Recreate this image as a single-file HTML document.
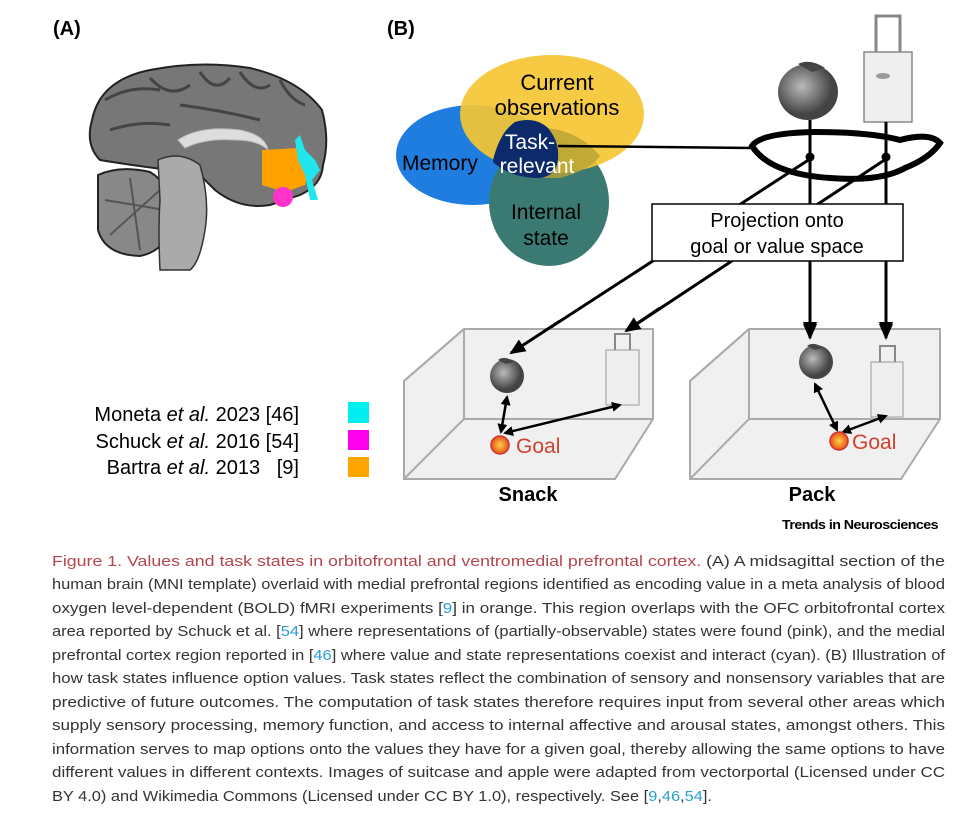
<!DOCTYPE html>
<html><head><meta charset="utf-8"><style>
html,body{margin:0;padding:0;background:#fff;}
svg{display:block;}
text{font-family:"Liberation Sans",sans-serif;}
</style></head><body>
<svg width="954" height="821" viewBox="0 0 954 821" xmlns="http://www.w3.org/2000/svg">
<defs>
<marker id="ah" markerWidth="10" markerHeight="10" refX="8" refY="5" orient="auto" markerUnits="userSpaceOnUse">
<path d="M0,0 L10,5 L0,10 z" fill="#000"/></marker>
<marker id="ah2" markerWidth="16" markerHeight="14" refX="14" refY="7" orient="auto" markerUnits="userSpaceOnUse">
<path d="M0,0 L16,7 L0,14 z" fill="#000"/></marker>
<marker id="as" markerWidth="10" markerHeight="10" refX="2" refY="5" orient="auto" markerUnits="userSpaceOnUse">
<path d="M10,0 L0,5 L10,10 z" fill="#000"/></marker>
<radialGradient id="gd"><stop offset="0" stop-color="#ffd24a"/><stop offset="1" stop-color="#e8501a"/></radialGradient>
<radialGradient id="ap" cx="0.4" cy="0.4"><stop offset="0" stop-color="#bbb"/><stop offset="1" stop-color="#444"/></radialGradient>
</defs>

<!-- Panel A -->
<text x="53" y="35" font-size="20" font-weight="bold">(A)</text>
<path d="M92,120 Q100,80 150,70 Q200,60 250,68 Q300,80 322,110 Q330,140 323,165 Q322,185 300,195 L270,205 Q240,210 215,190 L200,175 L170,170 Q130,165 100,160 Q85,145 92,120z" fill="#777" stroke="#222" stroke-width="2"/>
<path d="M105,100 Q130,85 160,90 M150,78 Q170,100 190,85 M200,72 Q215,95 230,78 M240,72 Q255,95 270,85 M280,80 Q290,100 305,105 M110,130 Q140,120 170,125 M180,105 Q220,110 260,120" stroke="#444" stroke-width="3" fill="none"/>
<path d="M178,140 Q200,125 240,130 Q265,135 268,150 Q258,140 235,140 Q205,138 185,148 Z" fill="#ddd" stroke="#bbb"/>
<path d="M98,175 Q120,165 150,172 Q172,185 172,215 Q170,250 140,256 Q105,255 98,230 Z" fill="#888" stroke="#222" stroke-width="2"/>
<path d="M105,200 L165,210 M130,178 L140,250 M110,235 L160,190" stroke="#555" stroke-width="2"/>
<path d="M158,160 Q180,150 200,165 Q210,200 205,230 Q200,262 190,270 L160,270 Q158,230 160,200 Z" fill="#aaa" stroke="#333" stroke-width="1.5"/>
<path d="M262,150 L300,148 L312,165 L305,185 L285,192 L262,185 Z" fill="#ffa200"/>
<circle cx="283" cy="197" r="10" fill="#ff33cc"/>
<path d="M295,140 L300,135 L305,150 L315,160 L320,170 L312,180 L318,200 L310,200 L305,175 L298,160 Z" fill="#22e6ee"/>
<text x="299" y="421" font-size="20" text-anchor="end">Moneta <tspan font-style="italic">et al.</tspan> 2023 [46]</text>
<text x="299" y="448" font-size="20" text-anchor="end">Schuck <tspan font-style="italic">et al.</tspan> 2016 [54]</text>
<text x="299" y="474" font-size="20" text-anchor="end">Bartra <tspan font-style="italic">et al.</tspan> 2013 &#160;&#160;[9]</text>
<rect x="348" y="402" width="21" height="21" fill="#00eef0"/>
<rect x="348" y="430" width="21" height="20" fill="#ff00ee"/>
<rect x="348" y="457" width="21" height="20" fill="#ffa500"/>

<!-- Panel B -->
<text x="387" y="35" font-size="20" font-weight="bold">(B)</text>
<ellipse cx="473" cy="155" rx="77" ry="50" fill="#1f7de0"/>
<ellipse cx="549" cy="202" rx="60" ry="64" fill="#3a7a72"/>
<ellipse cx="552" cy="114" rx="92" ry="59" fill="#f5c533" opacity="0.92"/>
<path d="M493,160 Q500,132 515,122 Q535,116 548,128 Q560,142 558,160 Q556,176 540,178 Q510,178 493,162Z" fill="#0d2a6a"/>
<path d="M548,128 Q560,142 558,160 Q556,176 540,178 L560,178 Q590,170 600,156 Q580,132 548,128Z" fill="#b8a334" opacity="0.8"/>
<text x="557" y="90" font-size="22" text-anchor="middle">Current</text>
<text x="557" y="115" font-size="22" text-anchor="middle">observations</text>
<text x="402" y="170" font-size="21">Memory</text>
<text x="530" y="149" font-size="21" fill="#fff" text-anchor="middle">Task-</text>
<text x="537" y="173" font-size="21" fill="#fff" text-anchor="middle">relevant</text>
<text x="546" y="219" font-size="21" text-anchor="middle">Internal</text>
<text x="546" y="245" font-size="21" text-anchor="middle">state</text>
<line x1="558" y1="146" x2="752" y2="148" stroke="#000" stroke-width="2.5"/>
<path d="M752,146 Q760,133 815,132 Q870,132 900,140 Q930,132 940,143 Q930,158 905,168 Q880,182 830,178 Q770,174 752,146Z" fill="none" stroke="#000" stroke-width="6"/>
<ellipse cx="808" cy="92" rx="30" ry="28" fill="url(#ap)"/>
<path d="M798,64 Q810,58 825,68 L812,72 Z" fill="#444"/>
<rect x="864" y="52" width="48" height="70" fill="#eee" stroke="#888" stroke-width="1.5"/>
<path d="M876,52 L876,16 L900,16 L900,52" fill="none" stroke="#888" stroke-width="3"/>
<ellipse cx="883" cy="76" rx="7" ry="3" fill="#999"/>
<line x1="810" y1="120" x2="810" y2="336" stroke="#000" stroke-width="3" marker-end="url(#ah2)"/>
<line x1="886" y1="122" x2="886" y2="336" stroke="#000" stroke-width="3" marker-end="url(#ah2)"/>
<circle cx="810" cy="157" r="4.5" fill="#000"/>
<circle cx="886" cy="157" r="4.5" fill="#000"/>
<line x1="810" y1="159" x2="511" y2="353" stroke="#000" stroke-width="3" marker-end="url(#ah2)"/>
<line x1="886" y1="159" x2="626" y2="331" stroke="#000" stroke-width="3" marker-end="url(#ah2)"/>
<rect x="652" y="204" width="251" height="57" fill="#fff" stroke="#000" stroke-width="1.5"/>
<text x="777" y="227" font-size="20" text-anchor="middle">Projection onto</text>
<text x="777" y="253" font-size="20" text-anchor="middle">goal or value space</text>

<g fill="#f0f0f0" stroke="#aaa" stroke-width="2">
<path d="M464,329 L653,329 L653,419 L615,479 L404,479 L404,381 Z"/>
<path d="M464,329 L464,419 L404,479 M464,419 L653,419 M464,329 L404,381" fill="none"/>
<path d="M749,329 L940,329 L940,419 L901,479 L690,479 L690,381 Z"/>
<path d="M749,329 L749,419 L690,479 M749,419 L940,419 M749,329 L690,381" fill="none"/>
</g>
<line x1="560" y1="321" x2="511" y2="353" stroke="#000" stroke-width="3" marker-end="url(#ah2)"/>
<line x1="660" y1="308" x2="626" y2="331" stroke="#000" stroke-width="3" marker-end="url(#ah2)"/>
<line x1="810" y1="320" x2="810" y2="338" stroke="#000" stroke-width="3" marker-end="url(#ah2)"/>
<line x1="886" y1="320" x2="886" y2="338" stroke="#000" stroke-width="3" marker-end="url(#ah2)"/>
<circle cx="507" cy="376" r="17" fill="url(#ap)"/>
<path d="M498,360 Q505,355 514,362 L506,364Z" fill="#444"/>
<circle cx="816" cy="362" r="17" fill="url(#ap)"/>
<path d="M807,346 Q814,341 823,348 L815,350Z" fill="#444"/>
<rect x="606" y="350" width="33" height="55" fill="#eee" stroke="#999"/>
<path d="M615,350 L615,334 L630,334 L630,350" fill="none" stroke="#888" stroke-width="2"/>
<rect x="871" y="362" width="32" height="55" fill="#eee" stroke="#999"/>
<path d="M880,362 L880,346 L895,346 L895,362" fill="none" stroke="#888" stroke-width="2"/>
<g stroke="#000" stroke-width="2.5">
<line x1="507" y1="397" x2="501" y2="432" marker-start="url(#as)" marker-end="url(#ah)"/>
<line x1="505" y1="433" x2="620" y2="405" marker-start="url(#as)" marker-end="url(#ah)"/>
<line x1="815" y1="384" x2="837" y2="430" marker-start="url(#as)" marker-end="url(#ah)"/>
<line x1="843" y1="432" x2="886" y2="416" marker-start="url(#as)" marker-end="url(#ah)"/>
</g>
<circle cx="500" cy="445" r="9" fill="url(#gd)" stroke="#c33" stroke-width="1.5"/>
<circle cx="839" cy="441" r="9" fill="url(#gd)" stroke="#c33" stroke-width="1.5"/>
<text x="516" y="453" font-size="21" fill="#d2402f">Goal</text>
<text x="852" y="449" font-size="21" fill="#d2402f">Goal</text>
<text x="528" y="501" font-size="20" font-weight="bold" text-anchor="middle">Snack</text>
<text x="812" y="501" font-size="20" font-weight="bold" text-anchor="middle">Pack</text>
<text x="938" y="529" font-size="13" font-weight="bold" text-anchor="end" textLength="156" lengthAdjust="spacingAndGlyphs" letter-spacing="-0.5">Trends in Neurosciences</text>

<g font-size="15" fill="#333">
<text x="52" y="566" textLength="893" lengthAdjust="spacingAndGlyphs"><tspan fill="#b5454d">Figure 1. Values and task states in orbitofrontal and ventromedial prefrontal cortex.</tspan> (A) A midsagittal section of the</text>
<text x="52" y="589" textLength="893" lengthAdjust="spacingAndGlyphs">human brain (MNI template) overlaid with medial prefrontal regions identified as encoding value in a meta analysis of blood</text>
<text x="52" y="613" textLength="893" lengthAdjust="spacingAndGlyphs">oxygen level-dependent (BOLD) fMRI experiments [<tspan fill="#2a9fd0">9</tspan>] in orange. This region overlaps with the OFC orbitofrontal cortex</text>
<text x="52" y="636" textLength="893" lengthAdjust="spacingAndGlyphs">area reported by Schuck et al. [<tspan fill="#2a9fd0">54</tspan>] where representations of (partially-observable) states were found (pink), and the medial</text>
<text x="52" y="660" textLength="893" lengthAdjust="spacingAndGlyphs">prefrontal cortex region reported in [<tspan fill="#2a9fd0">46</tspan>] where value and state representations coexist and interact (cyan). (B) Illustration of</text>
<text x="52" y="683" textLength="893" lengthAdjust="spacingAndGlyphs">how task states influence option values. Task states reflect the combination of sensory and nonsensory variables that are</text>
<text x="52" y="707" textLength="893" lengthAdjust="spacingAndGlyphs">predictive of future outcomes. The computation of task states therefore requires input from several other areas which</text>
<text x="52" y="730" textLength="893" lengthAdjust="spacingAndGlyphs">supply sensory processing, memory function, and access to internal affective and arousal states, amongst others. This</text>
<text x="52" y="754" textLength="893" lengthAdjust="spacingAndGlyphs">information serves to map options onto the values they have for a given goal, thereby allowing the same options to have</text>
<text x="52" y="777" textLength="893" lengthAdjust="spacingAndGlyphs">different values in different contexts. Images of suitcase and apple were adapted from vectorportal (Licensed under CC</text>
<text x="52" y="801" textLength="660" lengthAdjust="spacingAndGlyphs">BY 4.0) and Wikimedia Commons (Licensed under CC BY 1.0), respectively. See [<tspan fill="#2a9fd0">9</tspan>,<tspan fill="#2a9fd0">46</tspan>,<tspan fill="#2a9fd0">54</tspan>].</text>
</g>
</svg>
</body></html>
